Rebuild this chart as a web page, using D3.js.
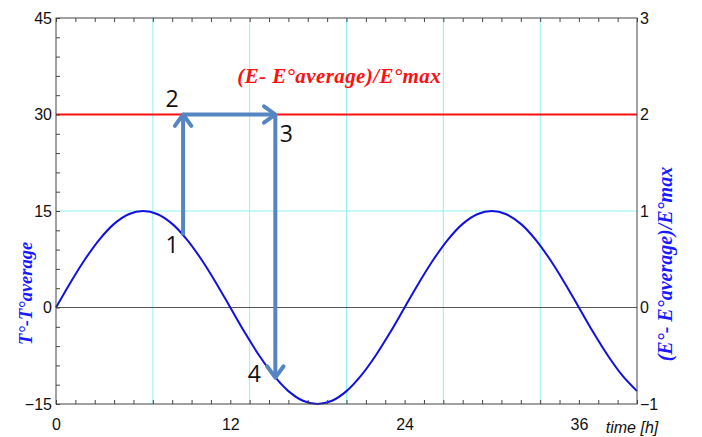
<!DOCTYPE html>
<html>
<head>
<meta charset="utf-8">
<script src="https://cdn.jsdelivr.net/npm/d3@7"></script>
<style>
  body { margin: 0; background: #fff; }
  svg { display: block; }
</style>
</head>
<body>
<div id="chart"></div>
<script>
// Hours on the time axis and the temperature deviation
const hours = d3.range(0, 41);
const tempDev = [0, 3.9, 7.5, 10.6, 13, 14.5, 15, 14.5, 13, 10.6, 7.5, 3.9,
  0, -3.9, -7.5, -10.6, -13, -14.5, -15, -14.5, -13, -10.6, -7.5, -3.9,
  0, 3.9, 7.5, 10.6, 13, 14.5, 15, 14.5, 13, 10.6, 7.5, 3.9,
  0, -3.9, -7.5, -10.6, -13];

// Constant energy level (left-axis units)
const energyLevel = 30;

// Tick labels
const leftTicks = [-15, 0, 15, 30, 45];
const rightTicks = [-1, 0, 1, 2, 3];
const timeTicks = [0, 12, 24, 36];
const vGrid = [20 / 3, 40 / 3, 20, 80 / 3, 100 / 3];

// Cycle arrows (time, left-axis value)
const arrows = [
  [[8.75, 11.2], [8.75, 30]],
  [[8.75, 30], [15.1, 30]],
  [[15.1, 30], [15.1, -10.9]]
];
const stepLabels = [
  { text: "1", t: 8.0, v: 8.5 },
  { text: "2", t: 8.0, v: 31.2 },
  { text: "3", t: 15.85, v: 25.7 },
  { text: "4", t: 13.65, v: -11.6 }
];

const margin = { top: 18, right: 65, bottom: 33, left: 56 };
const width = 702 - margin.left - margin.right;
const height = 437 - margin.top - margin.bottom;

const svg = d3.select("#chart")
  .append("svg")
  .attr("width", 702)
  .attr("height", 437)
  .append("g")
  .attr("transform", `translate(${margin.left}, ${margin.top})`);

const x = d3.scaleLinear().domain([0, 40]).range([0, width]);
const y = d3.scaleLinear().domain([-15, 45]).range([height, 0]);
const yRight = d3.scaleLinear().domain([-1, 3]).range([height, 0]);

// Grid lines
svg.selectAll(".vgrid")
  .data(vGrid)
  .enter()
  .append("line")
  .attr("x1", d => x(d)).attr("x2", d => x(d))
  .attr("y1", 0).attr("y2", height)
  .attr("stroke", "#8ff3f3")
  .attr("stroke-width", 1);

svg.append("line")
  .attr("x1", 0).attr("x2", width)
  .attr("y1", y(15)).attr("y2", y(15))
  .attr("stroke", "#8ff3f3");

svg.append("line")
  .attr("x1", 0).attr("x2", width)
  .attr("y1", y(0)).attr("y2", y(0))
  .attr("stroke", "#555");

// Energy line
svg.append("line")
  .attr("x1", 0).attr("x2", width)
  .attr("y1", y(energyLevel)).attr("y2", y(energyLevel))
  .attr("stroke", "#ff1010")
  .attr("stroke-width", 2);

// Temperature curve
const line = d3.line()
  .x((d, i) => x(hours[i]))
  .y(d => y(d))
  .curve(d3.curveCatmullRom);

svg.append("path")
  .datum(tempDev)
  .attr("fill", "none")
  .attr("stroke", "#1010e0")
  .attr("stroke-width", 2)
  .attr("d", line);

function styleAxis(g) {
  g.select(".domain").remove();
  g.selectAll(".tick line").attr("stroke", "#444");
  g.selectAll("text")
    .attr("font-family", "Liberation Sans, Arial, sans-serif")
    .attr("font-size", 16)
    .attr("fill", "#111");
}

// Minor ticks (inward)
svg.append("g")
  .call(d3.axisLeft(y).tickValues(d3.range(-15, 46, 3)).tickSize(-4).tickFormat(""))
  .call(styleAxis);

svg.append("g")
  .call(d3.axisTop(x).tickValues(d3.range(0, 31).map(i => i * 4 / 3)).tickSize(-4).tickFormat(""))
  .call(styleAxis);

svg.append("g")
  .attr("transform", `translate(0,${height})`)
  .call(d3.axisBottom(x).tickValues(d3.range(0, 31).map(i => i * 4 / 3)).tickSize(-4).tickFormat(""))
  .call(styleAxis);

// Tick labels
svg.append("g")
  .call(d3.axisLeft(y).tickValues(leftTicks).tickSize(0).tickPadding(4))
  .call(styleAxis);

svg.append("g")
  .attr("transform", `translate(${width},0)`)
  .call(d3.axisRight(yRight).tickValues(rightTicks).tickFormat(d3.format("d")).tickSize(0).tickPadding(3))
  .call(styleAxis);

svg.append("g")
  .attr("transform", `translate(0,${height})`)
  .call(d3.axisBottom(x).tickValues(timeTicks).tickSize(0).tickPadding(15))
  .call(styleAxis);

// Frame
svg.append("rect")
  .attr("width", width)
  .attr("height", height)
  .attr("fill", "none")
  .attr("stroke", "#444")
  .attr("stroke-width", 1);

// Axis titles
svg.append("text")
  .attr("x", 576)
  .attr("y", height + 29)
  .attr("text-anchor", "middle")
  .attr("font-family", "Liberation Sans, Arial, sans-serif")
  .attr("font-style", "italic")
  .attr("font-size", 16)
  .attr("fill", "#111")
  .text("time [h]");

svg.append("text")
  .attr("transform", `translate(-24, ${y(2.2)}) rotate(-90)`)
  .attr("text-anchor", "middle")
  .attr("font-family", "Liberation Serif, Times New Roman, serif")
  .attr("font-style", "italic")
  .attr("font-weight", "bold")
  .attr("font-size", 18.5)
  .attr("fill", "#1a1aff")
  .text("T°-T°average");

svg.append("text")
  .attr("transform", `translate(${width + 35}, ${yRight(0.45)}) rotate(-90)`)
  .attr("text-anchor", "middle")
  .attr("font-family", "Liberation Serif, Times New Roman, serif")
  .attr("font-style", "italic")
  .attr("font-weight", "bold")
  .attr("font-size", 20)
  .attr("fill", "#1a1aff")
  .text("(E°- E°average)/E°max");

svg.append("text")
  .attr("x", x(19.5))
  .attr("y", y(34.9))
  .attr("text-anchor", "middle")
  .attr("font-family", "Liberation Serif, Times New Roman, serif")
  .attr("font-style", "italic")
  .attr("font-weight", "bold")
  .attr("font-size", 21)
  .attr("letter-spacing", 0.4)
  .attr("fill", "#ff1010")
  .text("(E- E°average)/E°max");

// Cycle arrows
const arrowColor = "#5585c2";
arrows.forEach(seg => {
  const [p0, p1] = seg;
  const x0 = x(p0[0]), y0 = y(p0[1]), x1 = x(p1[0]), y1 = y(p1[1]);
  svg.append("line")
    .attr("x1", x0).attr("y1", y0)
    .attr("x2", x1).attr("y2", y1)
    .attr("stroke", arrowColor)
    .attr("stroke-width", 4);
  const ang = Math.atan2(y1 - y0, x1 - x0);
  const len = 14, spread = Math.PI / 5;
  const head = [
    [x1 - len * Math.cos(ang - spread), y1 - len * Math.sin(ang - spread)],
    [x1, y1],
    [x1 - len * Math.cos(ang + spread), y1 - len * Math.sin(ang + spread)]
  ];
  svg.append("path")
    .attr("d", d3.line()(head))
    .attr("fill", "none")
    .attr("stroke", arrowColor)
    .attr("stroke-width", 4)
    .attr("stroke-linecap", "round")
    .attr("stroke-linejoin", "round");
});

svg.selectAll(".step")
  .data(stepLabels)
  .enter()
  .append("text")
  .attr("x", d => x(d.t))
  .attr("y", d => y(d.v))
  .attr("text-anchor", "middle")
  .attr("font-family", "Open Sans, Liberation Sans, sans-serif")
  .attr("font-size", 23)
  .attr("fill", "#111")
  .text(d => d.text);
</script>
</body>
</html>
